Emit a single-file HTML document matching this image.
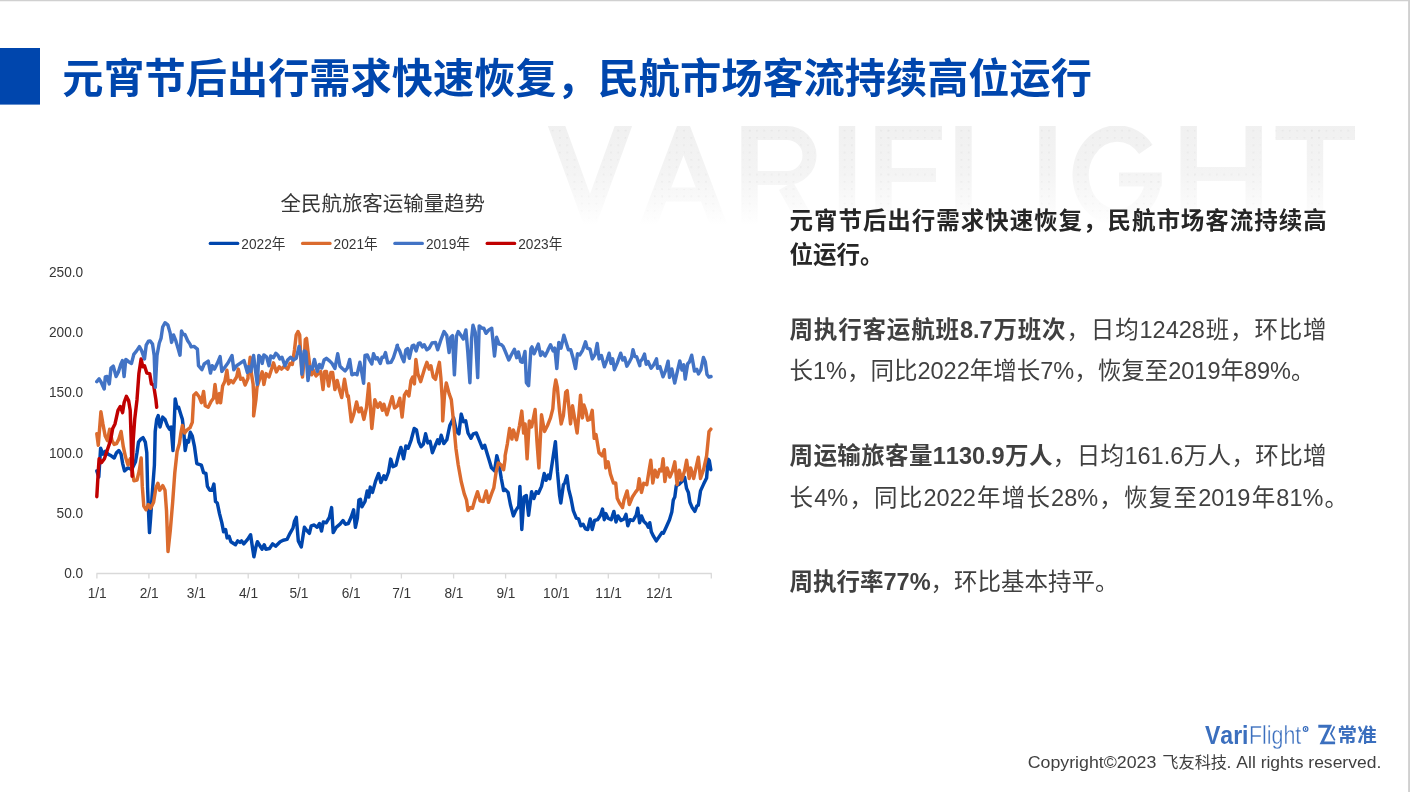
<!DOCTYPE html>
<html lang="zh-CN"><head><meta charset="utf-8"><title>元宵节后出行需求快速恢复，民航市场客流持续高位运行</title>
<style>
html,body{margin:0;padding:0;background:#fff}
body{width:1410px;height:792px;overflow:hidden;position:relative;font-family:"Liberation Sans","Noto Sans CJK SC",sans-serif}
svg{position:absolute;left:0;top:0;display:block;will-change:transform}
svg text{font-family:"Liberation Sans","Noto Sans CJK SC",sans-serif;font-kerning:none;white-space:pre}
</style></head><body>
<svg width="1410" height="792" viewBox="0 0 1410 792">
<path d="M0,0H1410V792H1408.1V1.2H0z" fill="#D0D0D0"/>
<rect x="0" y="48" width="40" height="56.6" fill="#0046AD"/>
<linearGradient id="wg" gradientUnits="userSpaceOnUse" x1="0" y1="122" x2="0" y2="226"><stop offset="0" stop-color="#F0F0F0"/><stop offset="0.5" stop-color="#F4F4F4"/><stop offset="1" stop-color="#FFFFFF"/></linearGradient><clipPath id="wc"><rect x="540" y="126.0" width="830" height="98.0"/></clipPath>
<pattern id="wd" width="7.3" height="7.3" patternUnits="userSpaceOnUse" x="1.5" y="3"><circle cx="3.6" cy="3.6" r="0.75" fill="#E2E2E2"/></pattern><linearGradient id="wf" gradientUnits="userSpaceOnUse" x1="0" y1="122" x2="0" y2="226"><stop offset="0" stop-color="#fff"/><stop offset="0.6" stop-color="#999"/><stop offset="1" stop-color="#000"/></linearGradient><mask id="wm" maskUnits="userSpaceOnUse" x="540" y="120" width="830" height="110"><rect x="540" y="120" width="830" height="110" fill="url(#wf)"/></mask>
<g clip-path="url(#wc)" fill="none" stroke="url(#wg)" stroke-miterlimit="10"><path stroke-width="16.4" d="M555.5,123.0 L590,218.0 L624.5,123.0 M647.5,227.0 L683.5,132.0 L719.5,227.0 M749.5,224.0 V126.0 M786,186 L809,227.0 M847,126.0 V224.0 M883.5,224.0 V126.0 M963.5,126.0 V224.0 M1047.5,126.0 V224.0 M1145.8,149.3 A36.5,41.8 0 1 0 1153.5,179.5 M1188.7,126.0 V224.0 M1253.7,126.0 V224.0 M1315,126.0 V224.0"/><path stroke-width="14.0" d="M662,194.5 H705 M749.5,133.0 H787 a22.5,22.5 0 0 1 0,45 H749.5 M883.5,133.0 H942 M883.5,175 H936 M963.5,217.0 H1022 M1119,179.5 H1161.7 M1188.7,174 H1253.7 M1275.6,133.0 H1355"/></g>
<g clip-path="url(#wc)" mask="url(#wm)" fill="none" stroke="url(#wd)" stroke-miterlimit="10"><path stroke-width="13.399999999999999" d="M555.5,123.0 L590,218.0 L624.5,123.0 M647.5,227.0 L683.5,132.0 L719.5,227.0 M749.5,224.0 V126.0 M786,186 L809,227.0 M847,126.0 V224.0 M883.5,224.0 V126.0 M963.5,126.0 V224.0 M1047.5,126.0 V224.0 M1145.8,149.3 A36.5,41.8 0 1 0 1153.5,179.5 M1188.7,126.0 V224.0 M1253.7,126.0 V224.0 M1315,126.0 V224.0"/><path stroke-width="11.0" d="M662,194.5 H705 M749.5,133.0 H787 a22.5,22.5 0 0 1 0,45 H749.5 M883.5,133.0 H942 M883.5,175 H936 M963.5,217.0 H1022 M1119,179.5 H1161.7 M1188.7,174 H1253.7 M1275.6,133.0 H1355"/></g>
<text y="92.90" font-size="41.20" font-weight="bold" fill="#0046AD"><tspan x="62.20">元宵节后出行需求快速恢复，民航市场客流持续高位运行</tspan></text>
<text y="210.50" font-size="20.45" fill="#363636"><tspan x="280.60">全民航旅客运输量趋势</tspan></text>
<path d="M210.2,243.4h27.6" stroke="#0046AD" stroke-width="3.1" stroke-linecap="round"/>
<text transform="translate(241.3,248.6) scale(1,1.09)" font-size="13.7" fill="#363636">2022<tspan>年</tspan></text>
<path d="M302.5,243.4h27.6" stroke="#DB6B2E" stroke-width="3.1" stroke-linecap="round"/>
<text transform="translate(333.6,248.6) scale(1,1.09)" font-size="13.7" fill="#363636">2021<tspan>年</tspan></text>
<path d="M394.8,243.4h27.6" stroke="#4273C5" stroke-width="3.1" stroke-linecap="round"/>
<text transform="translate(425.9,248.6) scale(1,1.09)" font-size="13.7" fill="#363636">2019<tspan>年</tspan></text>
<path d="M487.1,243.4h27.6" stroke="#C00000" stroke-width="3.1" stroke-linecap="round"/>
<text transform="translate(518.2,248.6) scale(1,1.09)" font-size="13.7" fill="#363636">2023<tspan>年</tspan></text>
<path d="M96.4,573.5H711.8M96.9,573.5v5M148.9,573.5v5M196.0,573.5v5M248.2,573.5v5M298.6,573.5v5M350.9,573.5v5M401.4,573.5v5M453.6,573.5v5M505.6,573.5v5M556.1,573.5v5M608.3,573.5v5M658.9,573.5v5M711.3,573.5v5" stroke="#D9D9D9" stroke-width="1.3" fill="none"/>
<g font-size="13.7" fill="#363636">
<text transform="translate(83.2,276.9) scale(1,1.09)" text-anchor="end">250.0</text>
<text transform="translate(83.2,337.1) scale(1,1.09)" text-anchor="end">200.0</text>
<text transform="translate(83.2,397.3) scale(1,1.09)" text-anchor="end">150.0</text>
<text transform="translate(83.2,457.5) scale(1,1.09)" text-anchor="end">100.0</text>
<text transform="translate(83.2,517.7) scale(1,1.09)" text-anchor="end">50.0</text>
<text transform="translate(83.2,577.9) scale(1,1.09)" text-anchor="end">0.0</text>
</g>
<path d="M96.8,470.9 98.8,477.0 100.6,448.2 102.9,454.2 105.2,451.2 108.2,454.2 111.2,455.8 114.2,458.0 116.5,452.7 118.8,450.5 121.1,454.2 122.6,463.3 124.5,470.9 127.9,467.9 131.7,469.4 135.5,461.8 137.0,452.7 138.5,442.1 140.8,439.1 143.0,437.6 145.3,442.1 146.8,452.7 147.6,487.9 148.8,518.2 149.5,532.6 150.6,518.2 152.1,495.5 154.4,465.2 155.2,431.5 156.7,419.4 158.2,415.6 160.0,427.0 162.7,417.1 165.0,419.4 167.3,425.5 169.5,429.2 171.1,427.0 173.0,450.5 174.1,425.5 175.2,398.9 177.1,408.0 178.6,407.3 180.9,414.8 182.4,419.4 183.6,430.0 185.2,450.5 187.0,440.6 188.5,442.1 190.3,432.3 192.3,436.1 194.5,446.7 196.8,463.6 201.4,465.2 203.6,472.7 205.9,473.5 207.4,486.4 209.7,490.2 212.0,490.2 213.9,484.1 215.5,501.5 217.3,503.0 219.5,513.6 221.8,522.7 223.6,531.8 225.6,529.5 227.1,537.9 229.1,536.4 230.9,541.7 235.5,544.7 237.7,540.9 240.0,542.4 241.5,540.9 243.8,543.9 247.6,539.4 250.6,534.8 252.4,547.0 253.9,556.8 255.9,547.0 257.4,541.7 259.7,545.5 262.0,549.2 264.2,544.7 265.8,549.2 269.5,548.5 272.6,543.9 275.6,546.2 280.2,541.7 283.2,540.2 287.0,539.4 290.0,533.3 293.0,528.0 294.5,521.2 296.3,517.4 298.3,540.9 301.3,547.0 304.4,527.3 306.6,530.3 309.4,533.3 311.2,525.8 314.2,525.0 317.2,527.3 319.5,523.5 321.5,531.1 323.3,522.0 326.3,522.7 329.4,517.4 331.6,507.6 333.2,532.6 336.2,527.3 340.0,524.2 343.0,520.5 345.3,524.2 348.3,523.5 351.3,516.7 353.6,509.8 355.4,527.3 357.4,518.2 358.9,500.0 360.4,499.2 361.9,506.8 365.0,501.5 367.2,490.9 368.8,497.0 370.3,487.1 372.5,492.4 375.6,481.1 378.6,473.5 380.9,482.6 383.9,475.8 385.7,479.5 388.5,472.0 390.7,459.1 393.0,466.7 396.0,465.2 399.1,453.0 400.9,447.4 403.6,458.8 405.9,445.9 408.2,448.2 411.2,439.8 414.2,428.5 416.5,430.0 418.8,442.1 421.0,446.7 423.3,444.4 425.6,433.8 427.8,442.9 430.1,441.4 432.4,452.7 435.4,445.2 437.7,439.8 439.2,443.6 441.2,435.3 443.8,443.6 446.8,439.8 449.8,425.5 453.6,417.9 456.6,431.5 458.9,433.8 461.2,414.1 463.5,421.7 465.7,420.9 468.0,433.0 471.0,438.3 473.3,433.8 476.3,433.0 479.4,440.6 482.4,448.2 484.7,445.2 486.9,452.7 489.2,460.3 491.5,467.9 494.5,470.9 496.8,455.8 499.1,464.8 501.3,478.5 503.6,490.6 505.1,489.4 508.1,492.4 510.4,504.5 513.4,515.9 515.7,510.6 518.7,506.1 519.9,486.4 521.8,529.5 524.0,497.0 526.3,495.5 528.6,515.2 531.6,491.7 533.9,498.5 536.2,491.7 538.4,493.2 541.5,486.4 544.2,473.5 546.0,480.3 548.3,475.0 549.8,478.8 552.8,459.1 555.4,441.7 557.4,471.2 559.6,495.5 560.8,503.0 563.4,484.8 564.9,482.6 566.9,475.8 568.7,489.4 571.0,498.5 573.3,510.6 576.3,518.2 578.6,518.9 580.8,525.8 583.1,524.2 585.4,528.8 587.7,529.5 590.2,518.9 592.2,529.5 594.5,520.5 597.5,519.7 600.5,515.2 602.5,509.1 604.3,519.7 605.8,513.6 608.1,518.2 611.2,519.7 613.9,511.4 616.0,522.0 618.0,515.9 621.0,520.5 624.0,518.9 626.0,514.4 627.8,525.8 630.1,519.7 633.1,520.5 636.2,515.2 637.7,508.3 639.6,522.7 641.5,515.9 643.7,521.2 646.8,524.2 648.3,527.3 649.8,522.7 651.3,531.8 653.6,536.4 656.3,540.9 658.9,537.1 661.9,532.6 663.4,533.3 666.5,526.5 669.5,519.7 671.8,512.1 673.3,500.0 674.8,497.0 676.3,485.6 679.3,484.1 682.4,481.1 684.6,477.3 686.6,488.6 688.4,492.4 689.9,502.3 692.2,507.6 694.8,511.4 696.8,506.1 698.3,505.3 700.5,490.9 703.6,484.1 706.6,478.0 708.1,459.1 709.3,460.6 710.8,469.7" fill="none" stroke="#0046AD" stroke-width="3.45" stroke-linejoin="round" stroke-linecap="round"/>
<path d="M96.8,433.8 98.3,445.2 100.9,411.8 102.9,423.9 105.2,436.1 107.4,440.6 109.7,429.2 112.0,440.6 114.2,444.4 116.5,443.6 118.8,439.1 121.1,431.5 123.3,446.7 125.6,457.3 127.9,464.8 130.2,458.8 132.4,470.9 133.9,480.8 137.0,480.0 139.2,470.9 141.2,458.0 142.3,486.4 143.8,506.1 146.1,509.8 148.3,504.5 150.6,508.3 153.6,502.3 155.9,487.9 157.9,483.3 159.7,490.2 162.7,485.6 165.0,490.2 166.5,510.6 168.0,551.5 170.3,530.3 172.6,503.0 174.8,472.7 177.1,451.5 179.4,443.6 180.9,433.0 182.4,425.5 184.7,433.0 187.0,430.0 190.0,427.7 192.3,422.4 193.8,395.2 196.1,392.9 199.1,396.7 201.4,402.7 203.6,391.4 205.2,405.8 208.2,407.3 211.2,401.2 213.5,398.2 215.0,384.5 217.3,402.7 219.5,393.6 220.6,402.7 222.6,386.1 224.8,381.5 226.9,370.2 228.6,383.9 230.9,380.5 233.2,382.7 236.6,377.0 238.3,369.1 240.6,379.3 242.8,378.2 245.1,385.0 248.0,378.2 248.0,375.9 250.2,357.2 251.4,373.6 253.1,383.9 253.9,399.8 253.6,415.9 255.9,399.8 257.0,387.3 259.9,378.2 262.2,371.9 263.9,384.4 266.1,373.6 269.0,377.0 271.2,370.2 273.5,362.8 276.4,371.9 279.2,366.8 281.5,369.1 284.3,366.2 287.7,369.1 290.0,363.4 292.3,364.5 294.5,349.8 296.2,335.0 298.0,331.6 299.7,335.0 300.8,357.7 302.5,377.0 304.2,358.9 305.3,339.5 306.5,338.4 308.2,353.2 309.9,366.8 311.6,374.8 313.3,370.2 316.1,375.9 318.4,373.6 320.7,371.4 323.0,389.5 324.7,371.4 326.4,371.4 328.6,386.1 330.9,372.5 332.6,372.5 334.9,389.5 337.2,380.5 339.4,389.5 341.7,397.5 344.5,379.3 347.4,396.4 348.3,395.9 351.3,421.7 353.6,414.8 356.6,402.0 358.9,411.8 361.2,408.0 363.9,419.4 366.5,407.3 368.8,383.8 371.8,428.5 374.8,399.7 377.8,407.3 380.1,402.7 382.4,410.3 383.9,404.2 386.9,414.8 390.0,404.2 392.2,396.7 394.5,408.0 397.5,405.8 399.8,398.2 402.1,417.1 404.4,395.2 406.6,391.4 408.9,395.9 411.0,380.5 412.7,377.0 414.4,383.9 415.9,359.4 417.8,373.6 420.7,381.6 424.1,370.2 426.9,362.3 429.2,369.1 430.9,365.7 433.2,377.0 435.5,379.3 437.7,369.1 439.4,362.3 440.9,378.2 442.3,399.8 442.7,420.9 444.5,395.2 446.3,383.0 449.1,393.6 451.3,399.7 453.6,422.4 455.9,448.2 458.2,464.8 461.2,481.5 464.2,493.6 466.5,500.0 468.0,510.6 470.3,507.6 472.5,508.3 474.8,500.0 477.5,491.7 480.1,500.8 483.2,501.5 486.2,490.9 488.5,502.3 491.5,493.9 493.8,487.9 496.0,472.7 498.3,462.9 501.3,465.2 503.6,469.7 505.1,459.1 505.1,455.8 507.4,443.6 509.6,428.5 511.9,439.1 513.4,430.0 516.5,439.8 519.5,425.5 521.8,411.1 523.6,433.0 525.1,423.9 527.1,458.8 529.3,420.9 531.6,427.0 535.1,409.5 536.9,440.6 538.9,467.9 541.5,414.8 544.5,431.5 547.5,425.5 550.5,417.9 552.8,408.8 554.3,389.1 555.8,380.0 557.4,387.6 559.6,411.8 561.2,423.9 563.4,415.6 565.7,392.1 567.2,390.6 569.5,413.3 570.5,423.9 572.5,405.8 574.8,419.4 577.1,433.0 579.0,413.3 580.5,395.2 582.4,417.9 583.9,405.0 585.7,410.3 587.7,420.2 589.9,419.4 592.2,410.3 594.2,438.3 596.0,434.5 599.0,452.7 602.1,455.8 604.3,449.7 605.8,467.9 608.1,461.8 610.4,473.9 613.4,483.0 615.7,483.0 617.2,498.2 619.5,503.0 622.5,507.6 624.0,500.0 627.1,490.9 629.3,504.5 632.4,497.0 635.4,492.4 637.7,489.4 639.2,478.8 641.5,492.4 643.7,483.3 646.8,484.8 649.0,470.9 650.8,460.3 652.8,483.0 655.1,470.2 657.4,477.0 659.6,469.4 661.5,470.9 663.1,458.8 664.9,481.5 667.2,467.9 669.9,477.0 672.5,470.9 674.8,461.8 677.1,484.5 679.3,470.2 681.6,480.0 684.6,470.9 686.6,460.3 689.2,478.5 690.7,467.9 693.7,478.5 696.0,467.9 698.3,457.3 700.5,478.5 703.6,469.4 706.6,455.8 709.0,431.5 710.8,429.2" fill="none" stroke="#DB6B2E" stroke-width="3.45" stroke-linejoin="round" stroke-linecap="round"/>
<path d="M96.8,496.7 98.3,470.9 99.1,458.8 101.4,462.6 104.4,458.8 107.4,449.7 110.5,440.6 112.7,428.5 115.0,423.9 118.0,410.3 120.3,406.5 122.6,412.6 124.1,402.7 126.4,396.4 128.6,400.5 130.2,410.3 131.2,440.6 132.1,476.2 133.2,440.6 134.7,419.4 137.0,399.7 138.9,373.6 141.1,358.9 142.8,366.8 144.5,365.7 146.8,373.1 149.7,373.6 151.4,383.9 153.6,385.0 155.9,399.8 156.7,407.3" fill="none" stroke="#C00000" stroke-width="3.45" stroke-linejoin="round" stroke-linecap="round"/>
<path d="M96.8,381.6 99.1,378.8 101.4,382.7 104.2,389.0 105.3,377.0 107.0,376.5 109.3,383.9 111.0,368.0 113.3,366.2 116.1,376.5 118.4,371.9 120.7,364.5 122.4,360.6 124.1,376.5 125.8,359.4 128.6,361.7 131.5,363.4 133.8,354.3 136.6,350.9 139.4,346.6 141.7,350.9 144.5,358.9 146.2,345.2 148.5,341.2 150.2,340.9 152.5,344.1 154.2,355.5 155.3,387.3 157.0,355.5 159.3,343.0 161.0,338.4 162.7,327.0 165.0,322.7 167.8,324.8 170.1,332.7 171.6,342.4 173.5,335.0 175.8,340.7 178.1,348.6 180.0,355.2 181.5,331.0 183.2,334.4 184.9,334.4 187.7,340.7 190.0,344.1 191.1,346.9 194.0,346.4 197.4,349.2 198.5,365.7 201.9,369.7 204.2,364.0 208.2,361.1 210.5,373.1 212.2,365.7 214.4,369.1 217.3,363.4 220.1,356.6 221.8,371.4 224.7,367.4 228.1,362.8 232.0,355.5 233.8,369.7 236.6,365.7 240.0,363.4 244.0,360.6 247.4,372.5 248.5,366.8 250.8,371.4 253.6,355.5 255.3,369.1 257.3,384.4 258.8,355.5 261.0,357.7 262.2,363.4 263.9,354.9 266.7,357.2 269.0,365.7 270.7,356.0 273.5,357.7 275.8,353.2 278.1,355.5 279.8,358.9 282.0,357.2 284.9,365.7 287.7,360.0 290.6,357.2 293.4,360.0 296.2,358.3 299.1,346.4 300.8,355.5 301.9,374.2 304.2,350.9 305.9,352.0 308.0,380.5 309.9,366.8 312.2,369.1 314.4,359.4 317.3,371.4 319.5,364.5 321.8,368.0 324.1,360.0 326.4,358.3 329.8,361.1 332.0,363.4 334.9,368.5 337.7,353.8 340.0,366.2 342.3,368.5 345.1,370.8 347.4,368.0 349.7,359.4 351.9,374.8 354.8,373.6 357.0,374.8 359.9,362.3 361.6,371.4 363.6,383.3 365.0,355.5 367.3,354.9 369.5,360.0 371.8,364.0 373.5,353.8 375.8,358.9 377.5,357.7 380.3,363.4 382.0,357.2 383.8,357.2 385.5,352.6 387.7,362.8 391.1,362.3 393.4,357.7 397.4,345.2 397.0,345.8 399.7,350.9 401.9,357.2 403.9,361.7 405.9,349.8 407.6,348.6 409.3,358.3 412.2,345.8 413.9,345.2 416.1,350.9 418.4,343.5 420.1,343.0 422.4,346.9 424.1,344.7 426.9,349.8 429.2,348.1 432.0,343.0 435.5,342.4 437.7,349.8 440.6,340.7 444.0,331.6 446.8,335.6 449.1,352.6 450.8,337.3 452.5,335.6 454.4,374.8 456.5,336.1 458.2,331.6 461.0,335.6 463.3,339.0 465.9,329.9 467.8,352.0 469.9,382.7 471.6,338.4 473.0,325.3 475.2,332.2 477.7,377.6 479.2,325.9 482.0,328.2 483.8,328.2 486.0,333.3 488.9,329.9 491.7,328.2 494.5,356.0 496.6,337.3 499.1,344.1 501.4,344.7 503.1,346.4 504.8,350.3 508.8,360.0 511.0,355.5 514.4,349.2 516.7,357.7 518.4,352.0 520.7,361.7 522.4,362.3 525.0,351.5 526.4,382.7 528.6,385.6 530.9,348.6 532.0,346.9 534.1,353.8 536.6,348.1 538.3,344.1 540.6,355.5 542.3,352.0 545.1,356.0 548.0,350.3 548.0,349.8 550.5,344.7 553.1,350.9 554.8,348.1 556.8,368.5 558.8,342.4 561.0,348.1 563.9,335.2 566.1,342.4 568.4,349.8 570.7,349.8 573.0,357.7 575.5,368.5 577.5,353.8 579.8,354.9 582.6,350.3 585.5,341.8 587.2,348.1 590.0,349.2 592.3,358.9 595.1,354.3 597.2,343.5 599.1,358.9 601.4,355.5 604.4,366.8 607.0,360.0 609.1,353.2 611.0,363.4 612.7,358.9 614.4,369.7 617.3,362.8 620.7,353.2 622.7,360.0 624.7,357.7 626.9,366.2 629.8,361.1 631.5,357.7 633.0,349.8 634.9,356.6 636.6,356.6 639.8,365.7 640.0,362.0 642.3,359.2 644.5,354.1 646.2,364.3 648.0,361.5 651.1,368.3 653.6,364.9 656.5,358.9 657.6,368.3 659.9,366.6 663.0,376.8 665.6,370.6 668.1,361.2 669.5,377.4 671.8,368.9 674.7,383.1 676.9,373.4 679.8,360.9 682.0,370.0 683.8,364.9 685.2,379.1 687.7,363.8 689.4,362.0 691.7,355.2 694.5,371.1 696.8,369.4 698.5,374.0 700.8,370.0 703.4,357.5 705.3,362.0 707.0,374.5 709.0,377.1 711.0,376.5" fill="none" stroke="#4273C5" stroke-width="3.45" stroke-linejoin="round" stroke-linecap="round"/>
<g font-size="13.7" fill="#363636">
<text transform="translate(97.2,597.8) scale(1,1.09)" text-anchor="middle">1/1</text>
<text transform="translate(149.2,597.8) scale(1,1.09)" text-anchor="middle">2/1</text>
<text transform="translate(196.3,597.8) scale(1,1.09)" text-anchor="middle">3/1</text>
<text transform="translate(248.5,597.8) scale(1,1.09)" text-anchor="middle">4/1</text>
<text transform="translate(298.9,597.8) scale(1,1.09)" text-anchor="middle">5/1</text>
<text transform="translate(351.2,597.8) scale(1,1.09)" text-anchor="middle">6/1</text>
<text transform="translate(401.7,597.8) scale(1,1.09)" text-anchor="middle">7/1</text>
<text transform="translate(453.9,597.8) scale(1,1.09)" text-anchor="middle">8/1</text>
<text transform="translate(505.9,597.8) scale(1,1.09)" text-anchor="middle">9/1</text>
<text transform="translate(556.4,597.8) scale(1,1.09)" text-anchor="middle">10/1</text>
<text transform="translate(608.6,597.8) scale(1,1.09)" text-anchor="middle">11/1</text>
<text transform="translate(659.2,597.8) scale(1,1.09)" text-anchor="middle">12/1</text>
</g>
<text y="229.20" font-size="23.50" font-weight="bold" fill="#262626"><tspan x="789.50" letter-spacing="0.96">元宵节后出行需求快速恢复，民航市场客流持续高</tspan></text>
<text y="263.00" font-size="23.50" font-weight="bold" fill="#262626"><tspan x="789.50">位运行。</tspan></text>
<text y="337.50" font-size="23.50" fill="#404040"><tspan x="789.50" font-weight="bold" letter-spacing="0.84">周执行客运航班</tspan><tspan x="959.93" font-weight="bold">8.7</tspan><tspan x="993.44" font-weight="bold" letter-spacing="0.84">万班次</tspan><tspan x="1066.46" letter-spacing="0.84">，日均</tspan><tspan x="1139.52">12428</tspan><tspan x="1205.71" letter-spacing="0.84">班，环比增</tspan></text>
<text y="379.20" font-size="23.50" fill="#404040"><tspan x="789.50">长</tspan><tspan x="813.00">1%</tspan><tspan x="846.96">，同比</tspan><tspan x="917.46">2022</tspan><tspan x="969.74">年增长</tspan><tspan x="1040.24">7%</tspan><tspan x="1074.21">，恢复至</tspan><tspan x="1168.21">2019</tspan><tspan x="1220.49">年</tspan><tspan x="1243.99">89%</tspan><tspan x="1291.02">。</tspan></text>
<text y="464.20" font-size="23.50" fill="#404040"><tspan x="789.50" font-weight="bold" letter-spacing="0.38">周运输旅客量</tspan><tspan x="932.81" font-weight="bold">1130.9</tspan><tspan x="1005.07" font-weight="bold" letter-spacing="0.38">万人</tspan><tspan x="1052.83" letter-spacing="0.38">，日均</tspan><tspan x="1124.49">161.6</tspan><tspan x="1183.68" letter-spacing="0.38">万人，环比增</tspan></text>
<text y="505.90" font-size="23.50" fill="#404040"><tspan x="789.50">长</tspan><tspan x="814.21">4%</tspan><tspan x="849.38" letter-spacing="1.21">，同比</tspan><tspan x="923.50">2022</tspan><tspan x="976.98" letter-spacing="1.21">年增长</tspan><tspan x="1051.10">28%</tspan><tspan x="1099.34" letter-spacing="1.21">，恢复至</tspan><tspan x="1198.17">2019</tspan><tspan x="1251.65">年</tspan><tspan x="1276.36">81%</tspan><tspan x="1324.60">。</tspan></text>
<text y="590.00" font-size="23.50" fill="#404040"><tspan x="789.50" font-weight="bold">周执行率</tspan><tspan x="883.50" font-weight="bold">77%</tspan><tspan x="930.53">，环比基本持平。</tspan></text>
<g fill="#3B6FBE"><text transform="translate(1205.0,743.6) scale(0.925,1)" font-size="24.9" font-weight="bold">Vari</text><text transform="translate(1248.9,743.6) scale(0.86,1)" font-size="24.9" stroke="#fff" stroke-width="0.4">Flight</text></g>
<circle cx="1305.6" cy="729" r="2.3" fill="none" stroke="#3B6FBE" stroke-width="1.2"/><rect x="1305" y="728" width="1.2" height="2.2" fill="#3B6FBE"/>
<path d="M1318.3,726.3H1329.8L1321.9,742.9H1335.1" fill="none" stroke="#3B6FBE" stroke-width="2.9" stroke-miterlimit="10"/>
<path d="M1334.5,726.4L1330.9,733.8L1334.8,740.4" fill="none" stroke="#3B6FBE" stroke-width="1.7"/>
<text x="1337.4 1357.2" y="742.1" font-size="19.5" font-weight="bold" fill="#3B6FBE">常准</text>
<text y="767.9" font-size="16.9" fill="#404040"><tspan x="1027.7" textLength="128.6" lengthAdjust="spacingAndGlyphs">Copyright©2023</tspan> <tspan x="1162.3" font-size="16.2">飞友科技</tspan><tspan x="1226.6" textLength="154.7" lengthAdjust="spacingAndGlyphs">. All rights reserved.</tspan></text>
</svg>
</body></html>
